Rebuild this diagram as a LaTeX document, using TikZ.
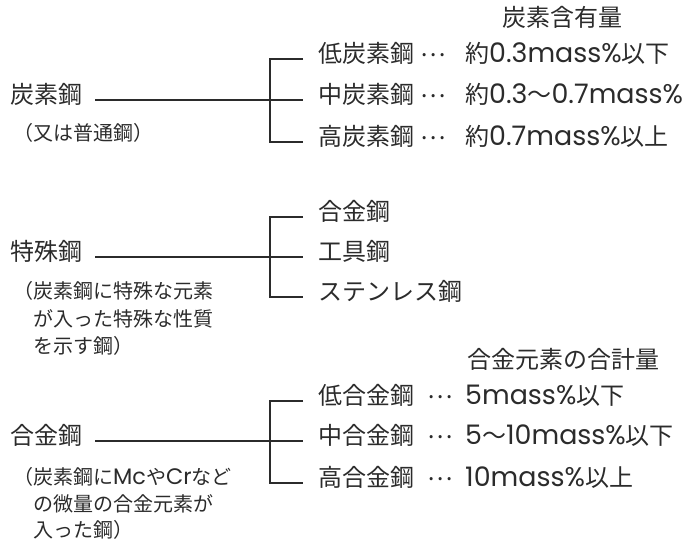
\documentclass[tikz,border=0pt]{standalone}
\usepackage{fontspec}
\setmainfont{Noto Sans CJK JP}
\newfontfamily\latfont[Scale=1.12]{Poppins}
\newcommand{\ltn}[1]{{\latfont #1}}
\newcommand{\tdots}{\raisebox{0.25em}{…}}
\definecolor{ink}{HTML}{2B2B2B}
\begin{document}
\begin{tikzpicture}[x=1pt,y=-1pt,
  lbl/.style={inner sep=0pt,anchor=west,text height=0.88em,text depth=0.12em,font=\fontsize{24pt}{28pt}\selectfont,text=ink},
  note/.style={inner sep=0pt,anchor=west,text height=0.88em,text depth=0.12em,font=\fontsize{20pt}{24pt}\selectfont,text=ink},
  conn/.style={draw=ink,line width=1.5pt}]
\useasboundingbox (0,0) rectangle (696,548);

% ---------- carbon steel ----------
\node[lbl] (h1) at (502,23) {炭素含有量};
\node[lbl] (cs) at (10,100) {炭素鋼};
\node[note] (csn) at (13,137) {（又は普通鋼）};
\node[lbl] (lc) at (318,59) {低炭素鋼};
\node[lbl] (mc) at (318,100) {中炭素鋼};
\node[lbl] (hc) at (318,142) {高炭素鋼};
\node[lbl] (lcd) at (420,59) {\tdots};
\node[lbl] (mcd) at (420,100) {\tdots};
\node[lbl] (hcd) at (420,142) {\tdots};
\node[lbl] (lcv) at (465,59) {約\ltn{0.3mass\%}以下};
\node[lbl] (mcv) at (465,100) {約\ltn{0.3}〜\ltn{0.7mass\%}};
\node[lbl] (hcv) at (465,142) {約\ltn{0.7mass\%}以上};
\coordinate (j1) at (270,100);
\draw[conn] ([xshift=13pt]cs.east) -- ([xshift=-15pt]mc.west);
\draw[conn] ([xshift=-15pt]lc.west) -| (j1) |- ([xshift=-15pt]hc.west);

% ---------- special steel ----------
\node[lbl] (ss) at (10,257) {特殊鋼};
\node[note] (ssn1) at (13,295) {（炭素鋼に特殊な元素};
\node[note] (ssn2) at (33,323) {が入った特殊な性質};
\node[note] (ssn3) at (33,350) {を示す鋼）};
\node[lbl] (s1) at (318,217) {合金鋼};
\node[lbl] (s2) at (318,257) {工具鋼};
\node[lbl] (s3) at (318,297) {ステンレス鋼};
\coordinate (j2) at (270,257);
\draw[conn] ([xshift=13pt]ss.east) -- ([xshift=-15pt]s2.west);
\draw[conn] ([xshift=-15pt]s1.west) -| (j2) |- ([xshift=-15pt]s3.west);

% ---------- alloy steel ----------
\node[lbl] (h2) at (467,365) {合金元素の合計量};
\node[lbl] (as) at (10,441) {合金鋼};
\node[note] (asn1) at (13,481) {（炭素鋼に\ltn{Mc}や\ltn{Cr}など};
\node[note] (asn2) at (33,508) {の微量の合金元素が};
\node[note] (asn3) at (33,534) {入った鋼）};
\node[lbl] (la) at (318,401) {低合金鋼};
\node[lbl] (ma) at (318,441) {中合金鋼};
\node[lbl] (ha) at (318,483) {高合金鋼};
\node[lbl] (lad) at (427,401) {\tdots};
\node[lbl] (mad) at (427,441) {\tdots};
\node[lbl] (had) at (427,483) {\tdots};
\node[lbl] (lav) at (465,401) {\ltn{5mass\%}以下};
\node[lbl] (mav) at (465,441) {\ltn{5}〜\ltn{10mass\%}以下};
\node[lbl] (hav) at (465,483) {\ltn{10mass\%}以上};
\coordinate (j3) at (270,441);
\draw[conn] ([xshift=13pt]as.east) -- ([xshift=-15pt]ma.west);
\draw[conn] ([xshift=-15pt]la.west) -| (j3) |- ([xshift=-15pt]ha.west);
\end{tikzpicture}
\end{document}
